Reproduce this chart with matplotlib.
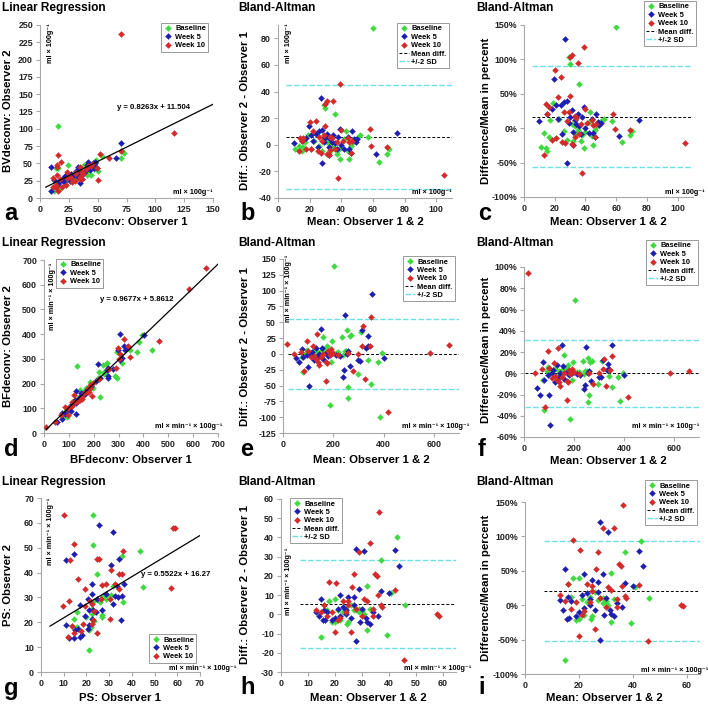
import numpy as np
import matplotlib
matplotlib.use('Agg')
import matplotlib.pyplot as plt
from matplotlib.ticker import FuncFormatter

plt.rcParams['font.family'] = ['Liberation Sans', 'DejaVu Sans']
plt.rcParams['axes.unicode_minus'] = False

# series names and colours
series = ['Baseline', 'Week 5', 'Week 10']
colors = ['#3fd93f', '#1e1eb0', '#d42a2a']

# BVdeconv: (mean of observers, observer 2 - observer 1)
bv_base_mean = [11, 13, 14, 15, 16, 17, 19, 21, 23, 26, 28, 29, 30, 31, 32, 33, 34, 35, 36, 37, 38, 39, 40, 42, 43, 44, 45, 46, 47, 48, 50, 52, 57, 60, 64, 69, 70]
bv_base_diff = [-3, -1, -4, -5, -2, 2, 7, -3, 3, -1, -5, 30, 28, 2, -6, 1, -3, -1, 23, -7, -4, -11, -2, 4, 10, -5, -11, -1, 1, 3, 5, 7, 6, 88, -13, -7, -3]
bv_w5_mean = [10, 15, 18, 19.5, 21, 22, 24, 25, 26, 27, 28, 28, 29, 30, 31, 32, 33, 34, 35, 36, 37, 38, 39, 40, 42, 44, 45, 46, 47, 48, 49, 50, 62, 75, 32]
bv_w5_diff = [1, 3, 5, 14, 7, 3, 8, -2, 10, 35, -14, 11, 2, 5, 8, -2, 4, 2, 7, 1, -3, 6, 12, 0, -3, 6, -3, -6, 10, 4, 2, 4, -7, 9, -8]
bv_w10_mean = [13, 14, 15, 16, 18, 20, 21, 22, 24, 25, 27, 28, 29, 30, 30, 31, 31, 32, 33, 34, 35, 36, 37, 38, 39, 40, 41, 44, 45, 46, 47, 58, 59, 69, 105, 26, 33, 153.5]
bv_w10_diff = [-5, 5, 3, 5, -3, 17, -3, 10, 18, -5, -6, 3, 7, 14, 31, 33, -7, -8, 6, 5, 33, -3, 2, -25, 46, 11, 3, 5, 2, -6, 3, 12, -1, -2, -23, 6, -4, 167]

# BFdeconv
bf_base_mean = [75, 80, 90, 95, 100, 115, 125, 135, 140, 150, 160, 165, 175, 185, 190, 195, 202, 210, 220, 235, 240, 245, 255, 257, 258, 265, 270, 297, 310, 340, 351, 376, 384, 395, 250]
bf_base_diff = [-5, -28, 2, 6, 0, 3, 5, -2, 3, 5, 27, 8, 13, -80, -12, 20, 139, 2, 3, 27, -2, 5, 37, -70, -52, 29, 30, -31, 35, -9, -47, -12, -100, 1, 5]
bf_w5_mean = [50, 65, 75, 80, 95, 100, 103, 110, 115, 125, 130, 140, 145, 150, 160, 170, 180, 190, 210, 225, 240, 243, 248, 255, 260, 267, 300, 307, 316, 330, 337, 340, 353, 400, 155]
bf_w5_diff = [-7, -13, 8, -5, -2, -20, -50, 0, 3, -10, 10, -5, 0, 40, -8, 2, -3, 0, -2, -3, -36, -26, 61, 0, 5, -19, -10, -11, 38, 9, 29, 13, 94, -6, 10]
bf_w10_mean = [17, 45, 70, 85, 95, 100, 110, 120, 125, 130, 136, 145, 150, 160, 170, 173, 175, 180, 185, 200, 220, 260, 277, 300, 314, 320, 327, 345, 350, 417, 584, 660, 190, 140]
bf_w10_diff = [16, 0, 3, -27, 20, 5, -5, 12, -3, -8, 32, -17, -5, 0, -12, -43, -15, 5, -2, 2, -2, 1, -27, 0, 13, 44, -39, 12, 58, -92, 1, 14, 8, -12]

# PS
ps_base_mean = [15, 16, 18, 19, 20, 21, 22, 23, 24, 25, 26, 27, 28, 29, 30, 31, 32, 32, 29, 33, 37, 39.5, 41, 43, 46, 24.5, 17, 20]
ps_base_diff = [-12, 5, 7, -4, 8, 2, -3, 1, 3, -4, 5, 2, 3, 3, 2, 0, 15, -8, 1, 3, 28.5, -10.5, 11, 40, 5, -5, 2, -4]
ps_w5_mean = [13, 14, 15, 15.5, 16, 16.5, 17, 19, 20, 21, 22, 22, 23, 24, 25, 26, 27, 28, 28, 29, 29.5, 30, 31, 31.5, 32, 33, 34, 36, 37, 40, 42.5, 44, 27, 24]
ps_w5_diff = [1, -1, 8, -3, 2, -3, 1, -3, -2, 3, 10, -1, 4, 2, 9, -2, 9, 34, -14, 13, -4, 3, 33, -2, -4, -5, 1, -1, 12, 11, 33.5, 25, 5, 0]
ps_w10_mean = [13, 15, 16, 17, 18, 19, 20, 20.5, 21, 22, 23, 24, 25, 26, 26.5, 27, 28, 29, 30, 31, 32, 33, 34, 35, 35.5, 36, 36.5, 37, 37.5, 42.5, 45.5, 58, 58.5, 34, 25]
ps_w10_diff = [2, 1, 5, -1, 17, 1, -9, 16.5, -3, -2, 7, 1, 5, -9, 14, 21, 3, 32.5, -1, 8, 7, 37, -1, 21, 20, 10, 53, 5, 4, 12.5, -23.5, 0, -1, 3, 7]

# regression equations and Bland-Altman limits
bv_fit = (0.8263, 11.504)
bf_fit = (0.9677, 5.8612)
ps_fit = (0.5522, 16.27)
bv_limits = (5.8, -33, 45)
bv_pct_limits = (17, -57, 90)
bf_limits = (0, -56, 55.5)
bf_pct_limits = (0, -32, 31)
ps_limits = (5.5, -17.3, 28.3)
ps_pct_limits = (20, -52, 93)

W, H = 708, 704
fig = plt.figure(figsize=(W / 100, H / 100), dpi=100)


def add_ax(l, t, r, b):
    return fig.add_axes([l / W, 1 - b / H, (r - l) / W, (b - t) / H])


def ftext(x, y, s, **kw):
    fig.text(x / W, 1 - y / H, s, **kw)


def style(ax, xlim, ylim, xticks, yticks, pct=False):
    ax.set_xlim(xlim)
    ax.set_ylim(ylim)
    ax.set_xticks(xticks)
    ax.set_yticks(yticks)
    for s in ['top', 'right']:
        ax.spines[s].set_visible(False)
    for s in ['left', 'bottom']:
        ax.spines[s].set_color('#a8a8a8')
        ax.spines[s].set_linewidth(0.8)
    ax.tick_params(length=3, width=0.8, color='#a8a8a8', labelsize=6.4, pad=2)
    if pct:
        ax.yaxis.set_major_formatter(FuncFormatter(lambda v, p: '%d%%' % v))
    for lab in ax.get_xticklabels() + ax.get_yticklabels():
        lab.set_fontweight('bold')
        lab.set_color('#222222')


def split(mean, diff):
    m = np.array(mean, float)
    d = np.array(diff, float)
    return m - d / 2, m + d / 2


def scatter(ax, xs, ys):
    hs = []
    for x, y, c, name in zip(xs, ys, colors, series):
        h, = ax.plot(x, y, 'D', color=c, ms=3.0, mec=c, mew=0.3, label=name, zorder=3)
        hs.append(h)
    return hs


def legend(ax, handles, x0, y0):
    leg = ax.legend(handles=handles, loc='upper left', bbox_to_anchor=(x0 / W, 1 - y0 / H),
                    bbox_transform=fig.transFigure, prop={'weight': 'bold', 'size': 5.4},
                    frameon=True, fancybox=False, edgecolor='#999999', framealpha=1,
                    handlelength=1.3, handletextpad=0.3, borderpad=0.3, labelspacing=0.15,
                    borderaxespad=0, markerscale=1.0)
    leg.get_frame().set_linewidth(0.7)
    leg.set_zorder(5)


def ba_lines(ax, limits, x0, x1):
    h1, = ax.plot([x0, x1], [limits[0], limits[0]], color='black', lw=0.7, ls=(0, (3, 2)), label='Mean diff.')
    h2, = ax.plot([x0, x1], [limits[1], limits[1]], color='#70e0e8', lw=1.0, ls=(0, (4, 1.5)), label='+/-2 SD')
    ax.plot([x0, x1], [limits[2], limits[2]], color='#70e0e8', lw=1.0, ls=(0, (4, 1.5)))
    return [h1, h2]


def fit_line(ax, fit, x0, x1):
    xx = np.array([x0, x1])
    ax.plot(xx, fit[0] * xx + fit[1], color='black', lw=0.9, zorder=4)


lab_kw = dict(fontsize=8.2, fontweight='bold')
unit_kw = dict(fontsize=5.2, fontweight='bold')
eq_kw = dict(fontsize=5.6, fontweight='bold')
u_bv = 'ml × 100g⁻¹'
u_bf = 'ml × min⁻¹ × 100g⁻¹'

groups = [
    ('BV', [bv_base_mean, bv_w5_mean, bv_w10_mean], [bv_base_diff, bv_w5_diff, bv_w10_diff], bv_fit, bv_limits, bv_pct_limits),
    ('BF', [bf_base_mean, bf_w5_mean, bf_w10_mean], [bf_base_diff, bf_w5_diff, bf_w10_diff], bf_fit, bf_limits, bf_pct_limits),
    ('PS', [ps_base_mean, ps_w5_mean, ps_w10_mean], [ps_base_diff, ps_w5_diff, ps_w10_diff], ps_fit, ps_limits, ps_pct_limits),
]

# ---------- row 1 : BV ----------
name, means, diffs, fit, lim, plim = groups[0]
o1 = [split(m, d)[0] for m, d in zip(means, diffs)]
o2 = [split(m, d)[1] for m, d in zip(means, diffs)]
pct = [np.array(d, float) / np.array(m, float) * 100 for m, d in zip(means, diffs)]

ax = add_ax(40, 25, 213, 198)
style(ax, (0, 150), (0, 250), range(0, 151, 25), range(0, 251, 25))
hs = scatter(ax, o1, o2)
fit_line(ax, fit, 5, 150)
ax.text(67, 128, 'y = 0.8263x + 11.504', **eq_kw)
legend(ax, hs, 161, 23)
ftext(50, 23, u_bv, rotation=90, ha='center', va='top', **unit_kw)
ftext(213, 192, u_bv, ha='right', va='center', **unit_kw)
ftext(126, 222, 'BVdeconv: Observer 1', ha='center', va='center', **lab_kw)
ftext(8, 111, 'BVdeconv: Observer 2', rotation=90, ha='center', va='center', **lab_kw)

ax = add_ax(278, 25, 452, 198)
style(ax, (0, 110), (-40, 90), range(0, 101, 20), range(-40, 81, 20))
hs = scatter(ax, means, diffs)
hl = ba_lines(ax, lim, 5, 110)
legend(ax, hs + hl, 397, 23)
ftext(288, 23, u_bv, rotation=90, ha='center', va='top', **unit_kw)
ftext(452, 192, u_bv, ha='right', va='center', **unit_kw)
ftext(365, 222, 'Mean: Observer 1 & 2', ha='center', va='center', **lab_kw)
ftext(245, 111, 'Diff.: Observer 2 - Observer 1', rotation=90, ha='center', va='center', **lab_kw)

ax = add_ax(524, 25, 693, 197)
style(ax, (0, 110), (-100, 150), range(0, 101, 20), range(-100, 151, 50), pct=True)
hs = scatter(ax, means, pct)
hl = ba_lines(ax, plim, 5, 110)
legend(ax, hs + hl, 644, 1)
ftext(705, 192, u_bv, ha='right', va='center', **unit_kw)
ftext(608, 222, 'Mean: Observer 1 & 2', ha='center', va='center', **lab_kw)
ftext(486, 111, 'Difference/Mean in percent', rotation=90, ha='center', va='center', **lab_kw)

# ---------- row 2 : BF ----------
name, means, diffs, fit, lim, plim = groups[1]
o1 = [split(m, d)[0] for m, d in zip(means, diffs)]
o2 = [split(m, d)[1] for m, d in zip(means, diffs)]
pct = [np.array(d, float) / np.array(m, float) * 100 for m, d in zip(means, diffs)]

ax = add_ax(44, 260, 218, 433)
style(ax, (0, 700), (0, 700), range(0, 701, 100), range(0, 701, 100))
hs = scatter(ax, o1, o2)
fit_line(ax, fit, 8, 700)
ax.text(225, 535, 'y = 0.9677x + 5.8612', **eq_kw)
legend(ax, hs, 56, 259)
ftext(52, 263, u_bf, rotation=90, ha='center', va='top', **unit_kw)
ftext(222, 426, u_bf, ha='right', va='center', **unit_kw)
ftext(131, 460, 'BFdeconv: Observer 1', ha='center', va='center', **lab_kw)
ftext(8, 346, 'BFdeconv: Observer 2', rotation=90, ha='center', va='center', **lab_kw)

ax = add_ax(283, 259, 459, 433)
style(ax, (0, 700), (-125, 150), range(0, 601, 200), range(-125, 151, 25))
hs = scatter(ax, means, diffs)
hl = ba_lines(ax, lim, 20, 700)
legend(ax, hs + hl, 403, 256)
ftext(289, 255, u_bf, rotation=90, ha='center', va='top', **unit_kw)
ftext(469, 427, u_bf, ha='right', va='center', **unit_kw)
ftext(371, 460, 'Mean: Observer 1 & 2', ha='center', va='center', **lab_kw)
ftext(245, 346, 'Diff.: Observer 2 - Observer 1', rotation=90, ha='center', va='center', **lab_kw)

ax = add_ax(524, 267, 699, 437)
style(ax, (0, 700), (-60, 100), range(0, 601, 200), range(-60, 101, 20), pct=True)
hs = scatter(ax, means, pct)
hl = ba_lines(ax, plim, 5, 700)
legend(ax, hs + hl, 646, 240)
ftext(699, 427, u_bf, ha='right', va='center', **unit_kw)
ftext(608, 461, 'Mean: Observer 1 & 2', ha='center', va='center', **lab_kw)
ftext(486, 350, 'Difference/Mean in percent', rotation=90, ha='center', va='center', **lab_kw)

# ---------- row 3 : PS ----------
name, means, diffs, fit, lim, plim = groups[2]
o1 = [split(m, d)[0] for m, d in zip(means, diffs)]
o2 = [split(m, d)[1] for m, d in zip(means, diffs)]
pct = [np.array(d, float) / np.array(m, float) * 100 for m, d in zip(means, diffs)]

ax = add_ax(41, 498, 200, 672)
style(ax, (0, 70), (0, 70), range(0, 71, 10), range(0, 71, 10))
hs = scatter(ax, o1, o2)
fit_line(ax, fit, 4, 70)
ax.text(44, 38.5, 'y = 0.5522x + 16.27', **eq_kw)
legend(ax, hs, 149, 634)
ftext(51, 498, u_bf, rotation=90, ha='center', va='top', **unit_kw)
ftext(236, 668, u_bf, ha='right', va='center', **unit_kw)
ftext(120, 698, 'PS: Observer 1', ha='center', va='center', **lab_kw)
ftext(8, 585, 'PS: Observer 2', rotation=90, ha='center', va='center', **lab_kw)

ax = add_ax(281, 499, 456, 672)
style(ax, (0, 65), (-30, 60), range(0, 61, 10), range(-30, 61, 10))
hs = scatter(ax, means, diffs)
hl = ba_lines(ax, lim, 7, 65)
legend(ax, hs + hl, 290, 498)
ftext(289, 548, u_bf, rotation=90, ha='center', va='top', **unit_kw)
ftext(471, 669, u_bf, ha='right', va='center', **unit_kw)
ftext(368, 698, 'Mean: Observer 1 & 2', ha='center', va='center', **lab_kw)
ftext(245, 585, 'Diff.: Observer 2 - Observer 1', rotation=90, ha='center', va='center', **lab_kw)

ax = add_ax(525, 502, 700, 674)
style(ax, (0, 65), (-100, 150), range(0, 61, 20), range(-100, 151, 50), pct=True)
hs = scatter(ax, means, pct)
hl = ba_lines(ax, plim, 7, 65)
legend(ax, hs + hl, 645, 480)
ftext(708, 670, u_bf, ha='right', va='center', **unit_kw)
ftext(604, 698, 'Mean: Observer 1 & 2', ha='center', va='center', **lab_kw)
ftext(486, 588, 'Difference/Mean in percent', rotation=90, ha='center', va='center', **lab_kw)

# titles and panel letters
titles = ['Linear Regression', 'Bland-Altman', 'Bland-Altman']
for row, ty in enumerate([8, 243, 482]):
    for col, tx in enumerate([2, 238, 476]):
        ftext(tx, ty, titles[col], ha='left', va='center', fontsize=8.6, fontweight='bold')
letters = 'abcdefghi'
for row, ly in enumerate([214, 449, 688]):
    for col, lx in enumerate([4, 240, 478]):
        ftext(lx, ly, letters[row * 3 + col], ha='left', va='center', fontsize=17, fontweight='bold')

fig.savefig('out.png', dpi=100)
